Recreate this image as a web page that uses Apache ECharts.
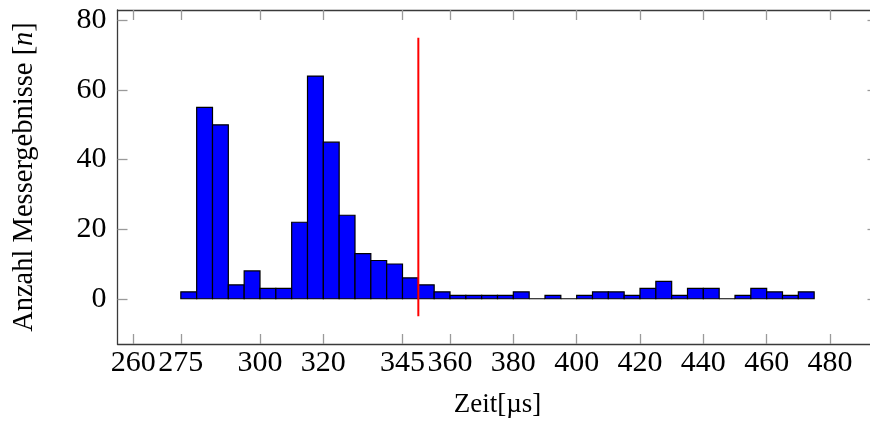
<!DOCTYPE html>
<html>
<head>
<meta charset="utf-8">
<script src="https://cdn.jsdelivr.net/npm/echarts@6/dist/echarts.min.js"></script>
<style>
  html, body { margin: 0; padding: 0; background: #ffffff; }
  #chart { width: 870px; height: 423px; }
</style>
</head>
<body>
<div id="chart"></div>
<script>
// Histogram of measured times, 5 µs bins starting at 275 µs
const firstBin = 275;
const binWidth = 5;
const counts = [2, 55, 50, 4, 8, 3, 3, 22, 64, 45, 24, 13, 11, 10, 6, 4, 2, 1, 1, 1,
                1, 2, 0, 1, 0, 1, 2, 2, 1, 3, 5, 1, 3, 3, 0, 1, 3, 2, 1, 2];

// Tick positions on both axes
const xTicks = [260, 275, 300, 320, 345, 360, 380, 400, 420, 440, 460, 480];
const yTicks = [0, 20, 40, 60, 80];

// Vertical marker at 350 µs
const markerX = 350;
const markerRange = [-5, 75];

const bins = counts.map((c, i) => [firstBin + i * binWidth, firstBin + (i + 1) * binWidth, c]);

const serif = '"Liberation Serif", "DejaVu Serif", serif';
const axisLineStyle = { color: '#3a3a3a', width: 1.3 };
const tickStyle = { color: '#9a9a9a', width: 1.3 };

const xRange = { min: 255, max: 495 };
const yRange = { min: -13, max: 83 };

const chart = echarts.init(document.getElementById('chart'), null, { renderer: 'canvas' });

chart.setOption({
  animation: false,
  backgroundColor: '#ffffff',
  grid: {
    left: 117.5, top: 10, width: 760, height: 334,
    containLabel: false, outerBoundsMode: 'none'
  },
  xAxis: [
    {
      type: 'value', position: 'bottom', ...xRange,
      name: 'Zeit[µs]', nameLocation: 'middle', nameGap: 47,
      nameTextStyle: { fontFamily: serif, fontSize: 27, color: '#000' },
      axisLine: { show: true, onZero: false, lineStyle: axisLineStyle },
      axisTick: { show: true, inside: true, length: 10, lineStyle: tickStyle, customValues: xTicks },
      axisLabel: { show: true, margin: 4, fontFamily: serif, fontSize: 30, color: '#000', customValues: xTicks },
      splitLine: { show: false }
    },
    {
      type: 'value', position: 'top', ...xRange,
      axisLine: { show: true, onZero: false, lineStyle: axisLineStyle },
      axisTick: { show: true, inside: true, length: 10, lineStyle: tickStyle, customValues: xTicks },
      axisLabel: { show: false },
      splitLine: { show: false }
    }
  ],
  yAxis: [
    {
      type: 'value', position: 'left', ...yRange,
      name: 'Anzahl Messergebnisse [{i|n}]', nameLocation: 'middle', nameGap: 78,
      nameTextStyle: {
        fontFamily: serif, fontSize: 28.5, color: '#000',
        rich: { i: { fontFamily: serif, fontSize: 28.5, fontStyle: 'italic', color: '#000' } }
      },
      axisLine: { show: true, onZero: false, lineStyle: axisLineStyle },
      axisTick: { show: true, inside: true, length: 10, lineStyle: tickStyle, customValues: yTicks },
      axisLabel: { show: true, margin: 11, fontFamily: serif, fontSize: 30, color: '#000', customValues: yTicks },
      splitLine: { show: false }
    },
    {
      type: 'value', position: 'right', ...yRange,
      axisLine: { show: true, onZero: false, lineStyle: axisLineStyle },
      axisTick: { show: true, inside: true, length: 10, lineStyle: tickStyle, customValues: yTicks },
      axisLabel: { show: false },
      splitLine: { show: false }
    }
  ],
  series: [
    {
      type: 'custom',
      xAxisIndex: 0,
      yAxisIndex: 0,
      data: bins,
      renderItem: function (params, api) {
        const lo = api.value(0), hi = api.value(1), n = api.value(2);
        const p0 = api.coord([lo, n]);
        const p1 = api.coord([hi, 0]);
        return {
          type: 'rect',
          shape: { x: p0[0], y: p0[1], width: p1[0] - p0[0], height: p1[1] - p0[1] },
          style: { fill: '#0000ff', stroke: '#000000', lineWidth: 1.2 }
        };
      },
      z: 2
    },
    {
      type: 'line',
      xAxisIndex: 0,
      yAxisIndex: 0,
      data: [[markerX, markerRange[0]], [markerX, markerRange[1]]],
      symbol: 'none',
      lineStyle: { color: '#ff0000', width: 2 },
      z: 3
    }
  ]
});
</script>
</body>
</html>
